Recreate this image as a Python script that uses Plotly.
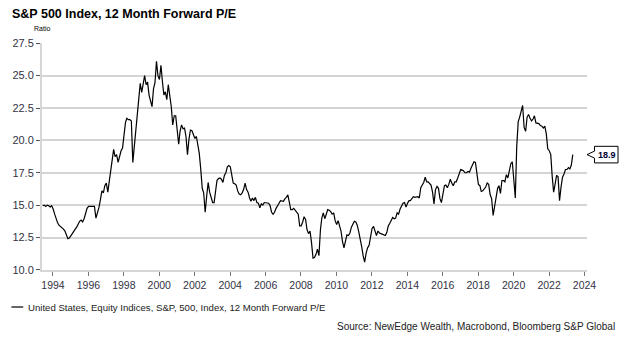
import pandas as pd
import plotly.graph_objects as go

# ---------------- data (monthly, S&P 500 12M forward P/E) ----------------
pe_1993 = [14.95, 15.0, 14.9, 15.0, 14.95, 14.85]  # Jul-Dec
pe_1994 = [14.95, 14.7, 14.3, 13.9, 13.65, 13.45, 13.35, 13.3, 13.15, 13.0, 12.75, 12.4]
pe_1995 = [12.45, 12.65, 12.85, 13.0, 13.15, 13.3, 13.6, 13.75, 13.85, 13.7, 13.95, 14.3]
pe_1996 = [14.75, 14.9, 14.9, 14.85, 14.85, 14.9, 14.0, 14.35, 14.8, 15.4, 16.1, 15.95]
pe_1997 = [16.5, 16.7, 16.0, 16.8, 17.6, 18.4, 19.3, 18.75, 18.9, 18.3, 18.75, 19.2]
pe_1998 = [19.4, 20.3, 21.4, 21.7, 21.6, 21.6, 21.5, 18.3, 19.6, 20.8, 22.0, 23.3]
pe_1999 = [24.4, 23.7, 24.45, 25.0, 24.3, 24.5, 23.5, 23.1, 22.6, 24.0, 24.45, 26.1]
pe_2000 = [25.0, 24.7, 25.8, 24.6, 23.5, 23.75, 23.15, 24.3, 23.5, 22.6, 21.2, 21.9]
pe_2001 = [21.9, 20.6, 19.7, 20.7, 21.2, 20.9, 20.95, 20.3, 18.9, 20.1, 20.8, 20.75]
pe_2002 = [20.5, 20.15, 20.3, 19.6, 19.0, 17.8, 16.3, 15.95, 14.45, 15.7, 16.75, 16.0]
pe_2003 = [15.5, 15.2, 15.2, 16.0, 16.9, 17.05, 17.1, 17.0, 16.75, 17.3, 17.5, 17.95]
pe_2004 = [18.05, 17.95, 17.25, 16.7, 16.65, 16.55, 16.1, 15.85, 15.8, 15.95, 16.2, 16.7]
pe_2005 = [16.2, 16.0, 15.55, 15.3, 15.55, 15.35, 15.6, 15.2, 15.15, 14.8, 15.1, 15.0]
pe_2006 = [15.2, 15.2, 15.2, 15.15, 14.95, 14.45, 14.3, 14.45, 14.75, 15.0, 15.15, 15.35]
pe_2007 = [15.3, 15.3, 15.5, 15.6, 15.8, 15.2, 14.65, 14.65, 14.75, 14.6, 14.4, 14.3]
pe_2008 = [13.4, 13.4, 13.7, 14.1, 13.9, 13.1, 12.8, 13.0, 12.1, 10.9, 10.95, 11.2]
pe_2009 = [11.6, 11.1, 13.1, 14.0, 14.4, 13.95, 14.3, 14.65, 14.6, 14.5, 14.3, 14.4]
pe_2010 = [13.8, 13.5, 13.8, 13.5, 13.0, 12.2, 11.7, 12.2, 12.7, 12.65, 12.85, 13.3]
pe_2011 = [13.55, 13.75, 13.7, 13.45, 12.95, 12.45, 11.8, 11.1, 10.6, 11.3, 11.7, 11.9]
pe_2012 = [12.5, 13.2, 13.35, 13.05, 12.65, 13.0, 12.85, 12.8, 12.75, 12.7, 12.65, 12.9]
pe_2013 = [13.4, 13.6, 13.85, 14.05, 13.95, 14.0, 14.4, 14.3, 14.7, 15.0, 15.15, 15.2]
pe_2014 = [14.85, 15.15, 15.35, 15.35, 15.5, 15.65, 15.6, 15.6, 15.65, 15.55, 16.35, 16.55]
pe_2015 = [16.75, 17.15, 16.8, 16.8, 16.7, 16.55, 16.0, 15.1, 16.2, 16.45, 16.3, 15.5]
pe_2016 = [15.2, 15.9, 16.5, 16.55, 16.35, 16.6, 17.0, 16.7, 16.5, 16.8, 16.8, 17.1]
pe_2017 = [17.5, 17.75, 17.7, 17.65, 17.5, 17.5, 17.6, 17.55, 17.85, 18.15, 18.35, 18.3]
pe_2018 = [17.6, 16.6, 16.5, 16.05, 16.1, 16.25, 16.4, 16.7, 16.6, 15.8, 15.5, 14.2]
pe_2019 = [14.95, 15.5, 16.3, 16.5, 15.9, 16.9, 16.9, 16.8, 17.35, 17.1, 17.6, 18.2]
pe_2020 = [18.35, 16.8, 15.55, 19.5, 21.45, 21.8, 22.2, 22.7, 21.0, 20.7, 21.8, 22.0]
pe_2021 = [21.7, 21.5, 21.65, 21.9, 21.35, 21.3, 21.3, 21.15, 21.1, 20.95, 21.1, 20.5]
pe_2022 = [19.35, 19.2, 18.9, 17.3, 16.0, 16.6, 17.3, 17.2, 15.35, 16.4, 17.15, 17.4]
pe_2023 = [17.75, 17.75, 17.9, 17.8, 18.1, 18.9]  # Jan-Jun

pe_values = (pe_1993 + pe_1994 + pe_1995 + pe_1996 + pe_1997 + pe_1998 + pe_1999
             + pe_2000 + pe_2001 + pe_2002 + pe_2003 + pe_2004 + pe_2005 + pe_2006
             + pe_2007 + pe_2008 + pe_2009 + pe_2010 + pe_2011 + pe_2012 + pe_2013
             + pe_2014 + pe_2015 + pe_2016 + pe_2017 + pe_2018 + pe_2019 + pe_2020
             + pe_2021 + pe_2022 + pe_2023)
dates = pd.date_range(end="2023-05-05", periods=len(pe_values), freq="MS") + pd.Timedelta(days=4)

y_ticks = [10.0, 12.5, 15.0, 17.5, 20.0, 22.5, 25.0, 27.5]

title_text = "S&P 500 Index, 12 Month Forward P/E"
series_name = "United States, Equity Indices, S&P, 500, Index, 12 Month Forward P/E"
source_text = "Source: NewEdge Wealth, Macrobond, Bloomberg S&P Global"
unit_text = "Ratio"

# ---------------- layout geometry (pixels) ----------------
W, H = 625, 340
L, R, T, B = 35, 38, 43, 70
PW, PH = W - L - R, H - T - B
FONT = "Liberation Sans, Arial, sans-serif"


def px(x):
    return (x - L) / PW


def py(y):
    return (H - B - y) / PH


fig = go.Figure()
fig.add_trace(go.Scatter(
    x=dates, y=pe_values, mode="lines", name=series_name,
    line=dict(color="#000000", width=1.2), showlegend=False,
    hoverinfo="x+y",
))

fig.update_layout(
    width=W, height=H,
    margin=dict(l=L, r=R, t=T, b=B, pad=0),
    paper_bgcolor="white", plot_bgcolor="white",
    font=dict(family=FONT, color="#333344"),
    xaxis=dict(
        type="date",
        range=["1993-05-20", "2024-02-22"],
        tick0="1994-01-01", dtick="M24", tickformat="%Y",
        showgrid=False, zeroline=False,
        showline=True, linecolor="#d6d6d6", linewidth=2,
        ticks="outside", ticklen=4, tickwidth=1, tickcolor="#777777",
        tickfont=dict(size=10.5, color="#333344", family=FONT),
    ),
    yaxis=dict(
        range=[9.99, 27.52],
        tickvals=y_ticks, tickformat=".1f",
        showgrid=True, gridcolor="#d4d4d4", gridwidth=1.5,
        zeroline=False,
        showline=True, linecolor="#d6d6d6", linewidth=2,
        ticks="outside", ticklen=4, tickwidth=1, tickcolor="#555555",
        tickfont=dict(size=11, color="#333344", family=FONT),
    ),
)

annotations = [
    dict(text="<b>" + title_text + "</b>", xref="paper", yref="paper",
         x=px(3), y=py(14), xanchor="left", yanchor="middle", showarrow=False,
         font=dict(size=12.5, color="#000000", family=FONT)),
    dict(text=unit_text, xref="paper", yref="paper",
         x=px(35), y=py(29), xanchor="center", yanchor="middle", showarrow=False,
         font=dict(size=7, color="#000000", family=FONT)),
    dict(text=series_name, xref="paper", yref="paper",
         x=px(19), y=py(307), xanchor="left", yanchor="middle", showarrow=False,
         font=dict(size=9.6, color="#222222", family=FONT)),
    dict(text=source_text, xref="paper", yref="paper",
         x=px(617), y=py(326), xanchor="right", yanchor="middle", showarrow=False,
         font=dict(size=10, color="#222222", family=FONT)),
    dict(text="<b>%.1f</b>" % pe_values[-1], xref="paper", yref="y",
         x=1, y=pe_values[-1], xshift=19.5, xanchor="center", yanchor="middle",
         showarrow=False, font=dict(size=9, color="#000033", family=FONT)),
]
fig.update_layout(annotations=annotations)

shapes = [
    # legend line sample
    dict(type="line", xref="paper", yref="paper",
         x0=px(4), x1=px(16), y0=py(307), y1=py(307),
         line=dict(color="#000000", width=1.2)),
    # last-value callout
    dict(type="path", xref="paper", yref="y", xsizemode="pixel", ysizemode="pixel",
         xanchor=1, yanchor=pe_values[-1],
         path="M 0 0 L 7.5 3.5 L 7.5 8.3 L 31 8.3 L 31 -8.3 L 7.5 -8.3 L 7.5 -3.5 Z",
         line=dict(color="#000000", width=1), fillcolor="white"),
]
fig.update_layout(shapes=shapes)

fig.write_html("out.html")
